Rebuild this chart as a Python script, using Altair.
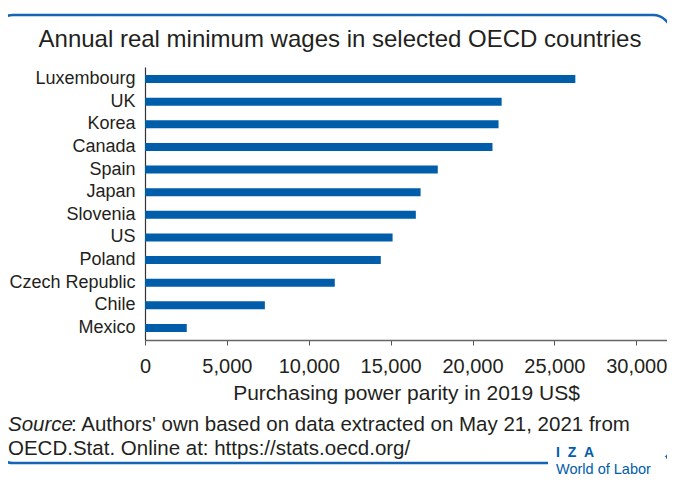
import altair as alt
import pandas as pd

countries = ["Luxembourg", "UK", "Korea", "Canada", "Spain", "Japan", "Slovenia",
             "US", "Poland", "Czech Republic", "Chile", "Mexico"]
wages = [26280, 21780, 21590, 21220, 17880, 16830, 16540, 15120, 14400, 11590, 7320, 2550]
x_ticks = [0, 5000, 10000, 15000, 20000, 25000, 30000]

title_text = "Annual real minimum wages in selected OECD countries"
x_title = "Purchasing power parity in 2019 US$"
source_label = "Source"
source_rest1 = ": Authors' own based on data extracted on May 21, 2021 from"
source_line2 = "OECD.Stat. Online at: https://stats.oecd.org/"
logo_top = "I\u00a0\u00a0Z\u00a0\u00a0A"
logo_bottom = "World of Labor"

FONT = "Liberation Sans"
BLUE = "#005DAA"
FRAME = "#1565B5"
TXT = "#231F20"

df = pd.DataFrame({"country": countries, "wage": wages})

W, H = 522, 273
X_MAX = 32000 * 522 / 524

frame = alt.Chart(pd.DataFrame({"a": [0]})).mark_rect(
    fillOpacity=0, stroke=FRAME, strokeWidth=2.5, cornerRadius=18
).encode(x=alt.value(-150), x2=alt.value(526), y=alt.value(-52), y2=alt.value(396))

gap = alt.Chart(pd.DataFrame({"a": [0]})).mark_rect(
    fill="white"
).encode(x=alt.value(403), x2=alt.value(521), y=alt.value(390), y2=alt.value(402))

bars = alt.Chart(df).mark_bar(color=BLUE).encode(
    y=alt.Y("country:N", sort=countries,
            scale=alt.Scale(paddingInner=0.646, paddingOuter=0.353),
            axis=alt.Axis(title=None, ticks=False, labelFontSize=18, labelFont=FONT,
                          labelColor=TXT, labelPadding=10, domainColor="#333333",
                          domainWidth=1.2)),
    x=alt.X("wage:Q", scale=alt.Scale(domain=[0, X_MAX], nice=False),
            axis=alt.Axis(title=x_title, values=x_ticks, format=",d", grid=False,
                          labelFontSize=20, labelFont=FONT, labelColor=TXT,
                          titleFontSize=21, titleFont=FONT, titleColor=TXT,
                          titleFontWeight="normal", tickSize=5, tickColor="#555555",
                          domainColor="#666666", domainWidth=1.5, labelPadding=11,
                          titlePadding=6, labelFlush=False)),
)


def txt(s, x, y, size, align="left", color=TXT, style="normal", weight="normal",
        baseline="middle", font=FONT):
    return alt.Chart(pd.DataFrame({"t": [s]})).mark_text(
        align=align, baseline=baseline, fontSize=size, font=font, color=color,
        fontStyle=style, fontWeight=weight
    ).encode(text="t:N", x=alt.value(x), y=alt.value(y))


title = txt(title_text, 195, -27, 24, align="center")
src1a = txt(source_label, -137, 358, 20.5, style="italic")
src1b = txt(source_rest1, -137 + 63, 358, 20.5)
src2 = txt(source_line2, -137, 382, 20.5)
logo1 = txt(logo_top, 411, 386, 14, color=BLUE, weight="bold")
logo2 = txt(logo_bottom, 411, 403, 14.5, color=BLUE)

chart = alt.layer(frame, gap, bars, title, src1a, src1b, src2, logo1, logo2).properties(
    width=W, height=H,
    autosize=alt.AutoSizeParams(type="none"),
    padding={"left": 137, "top": 59, "right": 0, "bottom": 137},
).configure_view(stroke=None)

chart.save("out.html", embed_options={"renderer": "svg", "actions": False})
